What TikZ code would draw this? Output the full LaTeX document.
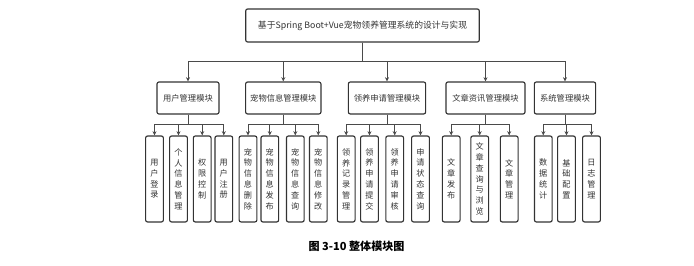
\documentclass[tikz,border=0pt]{standalone}
\usepackage{fontspec}
\setmainfont{Noto Sans CJK SC}
\usetikzlibrary{arrows.meta}
\definecolor{boxline}{HTML}{333333}
\definecolor{conn}{HTML}{4A4A4A}
\definecolor{txt}{HTML}{333333}
\tikzset{
  base/.style={draw=boxline, line width=0.85pt, rounded corners=1.5pt, inner sep=0pt, text=txt, fill=white},
  topbox/.style={base, minimum width=175.2pt, minimum height=24.8pt, font=\fontsize{6.6pt}{8pt}\selectfont},
  midbox/.style={base, minimum height=24pt, font=\fontsize{6.2pt}{8pt}\selectfont},
  leafbox/.style={base, minimum width=13.3pt, minimum height=64.5pt, align=center, font=\fontsize{6.1pt}{8.1pt}\selectfont},
  arr/.style={draw=conn, line width=0.75pt, -{Stealth[length=3.2pt,width=3pt]}},
  caption/.style={font=\fontsize{8.3pt}{10pt}\selectfont\bfseries, text=black}
}
\begin{document}
\begin{tikzpicture}[x=0.75pt,y=-0.75pt]
\useasboundingbox (0,0) rectangle (694,266);
\node[topbox] (top) at (362.5,25.5) {基于Spring Boot+Vue宠物领养管理系统的设计与实现};
\coordinate (tbus) at (0,62);
\coordinate (lbus) at (0,125);
\node[midbox, minimum width=46.5pt] (m1) at (188,98) {用户管理模块};
\node[midbox, minimum width=56.5pt] (m2) at (283.3,98) {宠物信息管理模块};
\node[midbox, minimum width=58pt] (m3) at (387,98) {领养申请管理模块};
\node[midbox, minimum width=59.3pt] (m4) at (485.5,98) {文章资讯管理模块};
\node[midbox, minimum width=46pt] (m5) at (565,98) {系统管理模块};
\foreach \m in {m1,m2,m3,m4,m5}{
  \draw[arr] (top.south) -- (top.south |- tbus) -| (\m.north);
}
% leaves
\node[leafbox] (l1) at (154.5,179) {用\\户\\登\\录};
\node[leafbox] (l2) at (178.5,179) {个\\人\\信\\息\\管\\理};
\node[leafbox] (l3) at (202.2,179) {权\\限\\控\\制};
\node[leafbox] (l4) at (223.8,179) {用\\户\\注\\册};
\node[leafbox] (l5) at (248,179) {宠\\物\\信\\息\\删\\除};
\node[leafbox] (l6) at (269.8,179) {宠\\物\\信\\息\\发\\布};
\node[leafbox] (l7) at (295.3,179) {宠\\物\\信\\息\\查\\询};
\node[leafbox] (l8) at (318.3,179) {宠\\物\\信\\息\\修\\改};
\node[leafbox] (l9) at (346.2,179) {领\\养\\记\\录\\管\\理};
\node[leafbox] (l10) at (369.5,179) {领\\养\\申\\请\\提\\交};
\node[leafbox] (l11) at (394.7,179) {领\\养\\申\\请\\审\\核};
\node[leafbox] (l12) at (420.5,179) {申\\请\\状\\态\\查\\询};
\node[leafbox] (l13) at (451.2,179) {文\\章\\发\\布};
\node[leafbox] (l14) at (479.7,179) {文\\章\\查\\询\\与\\浏\\览};
\node[leafbox] (l15) at (509.2,179) {文\\章\\管\\理};
\node[leafbox] (l16) at (543.3,179) {数\\据\\统\\计};
\node[leafbox] (l17) at (566.5,179) {基\\础\\配\\置};
\node[leafbox] (l18) at (591.5,179) {日\\志\\管\\理};
\foreach \p/\ls in {m1/{l1,l2,l3,l4},m2/{l5,l6,l7,l8},m3/{l9,l10,l11,l12},m4/{l13,l14,l15},m5/{l16,l17,l18}}{
  \foreach \l in \ls {
    \draw[arr] (\p.south) -- (\p.south |- lbus) -| (\l.north);
  }
}
\node[caption] (cap) at (356.5,246.5) {图 3-10 整体模块图};
\end{tikzpicture}
\end{document}
